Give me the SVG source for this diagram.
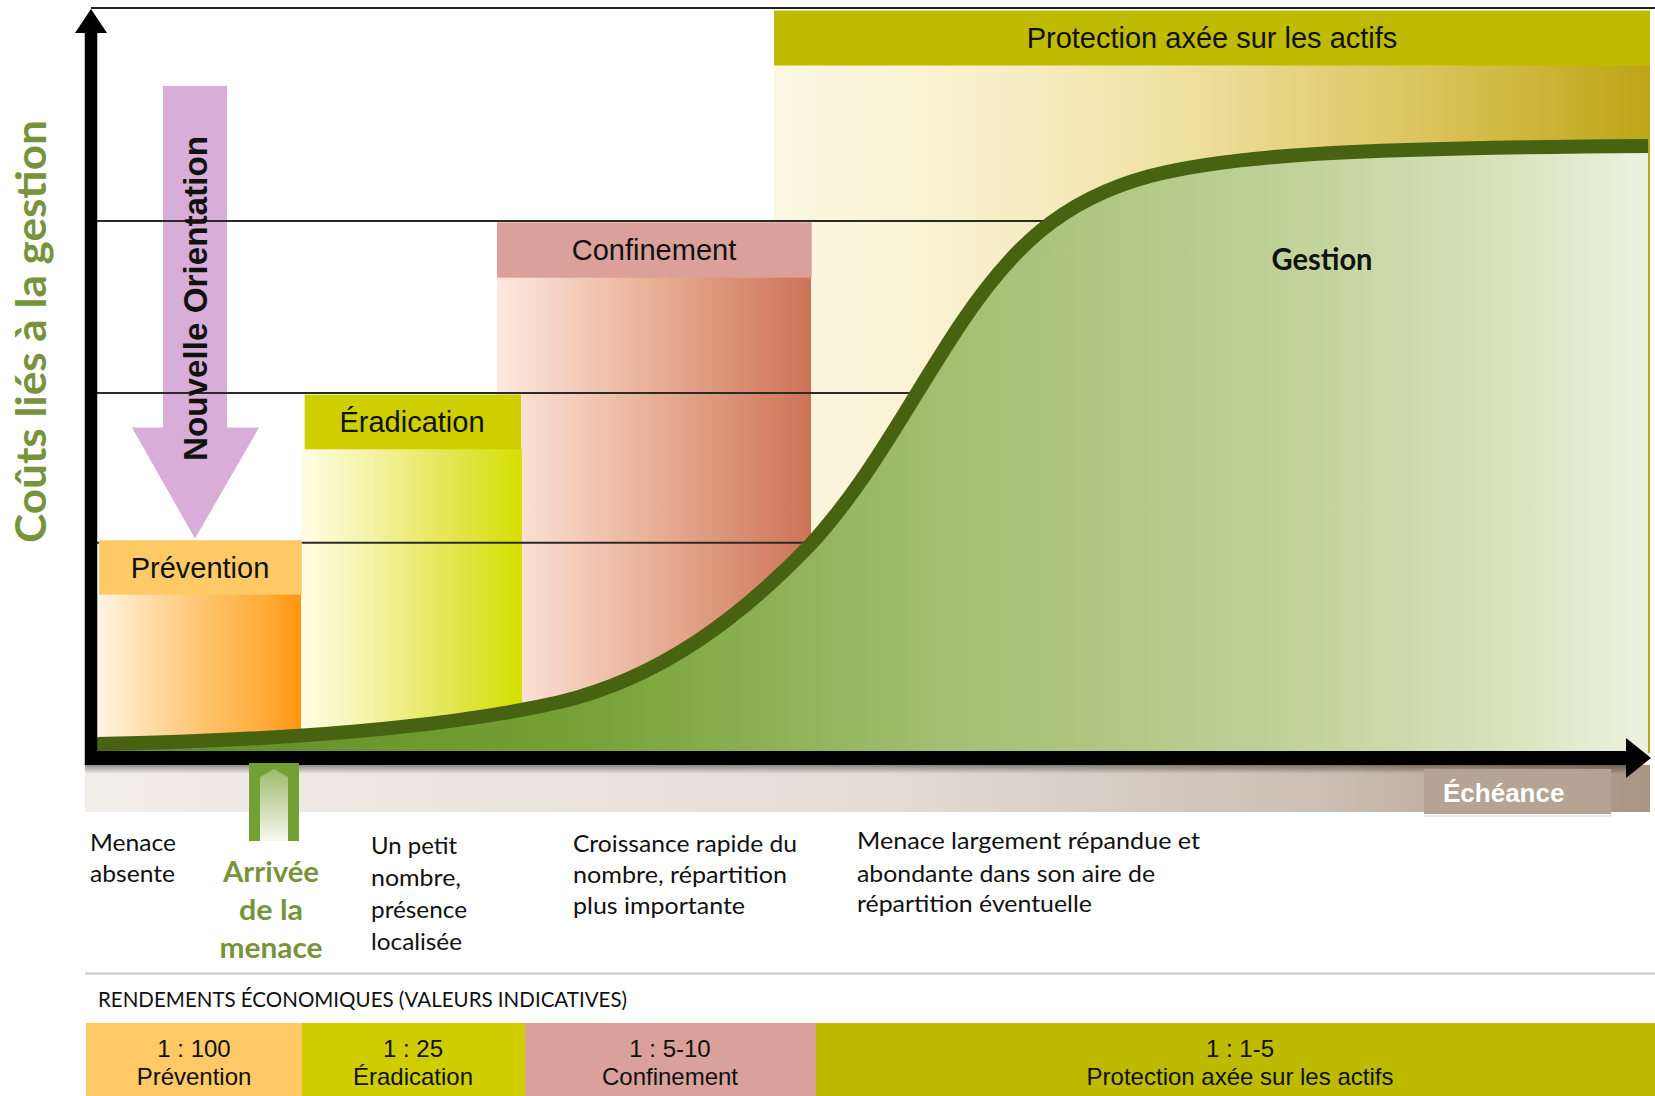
<svg xmlns="http://www.w3.org/2000/svg" width="1655" height="1096" viewBox="0 0 1655 1096">
<defs>
<style>
.ar{font-family:"Liberation Sans",Arial,sans-serif;fill:#111}
.cal{font-family:Lato,"Open Sans",sans-serif;fill:#111}
.box{font-size:29px}
.tbl{font-size:24px;text-anchor:middle}
.body{font-size:24px}
.grn{fill:#77933C;font-weight:bold}
.guide{stroke:#2a2a2a;stroke-width:2;fill:none}
</style>
<linearGradient id="gGold" x1="0" y1="0" x2="1" y2="0">
<stop offset="0" stop-color="#FCF7E3"/>
<stop offset="0.25" stop-color="#F8EFC9"/>
<stop offset="0.5" stop-color="#EEDD9A"/>
<stop offset="0.75" stop-color="#DAC35A"/>
<stop offset="1" stop-color="#BFA515"/>
</linearGradient>
<linearGradient id="gConf" x1="0" y1="0" x2="1" y2="0">
<stop offset="0" stop-color="#FCE8E0"/>
<stop offset="0.35" stop-color="#F0C1AB"/>
<stop offset="0.7" stop-color="#DD977B"/>
<stop offset="1" stop-color="#CD7357"/>
</linearGradient>
<linearGradient id="gErad" x1="0" y1="0" x2="1" y2="0">
<stop offset="0" stop-color="#FFFDE4"/>
<stop offset="0.3" stop-color="#F5F3AA"/>
<stop offset="0.7" stop-color="#E3E54C"/>
<stop offset="1" stop-color="#D5DF00"/>
</linearGradient>
<linearGradient id="gPrev" x1="0" y1="0" x2="1" y2="0">
<stop offset="0" stop-color="#FFF4E3"/>
<stop offset="0.5" stop-color="#FFC672"/>
<stop offset="0.85" stop-color="#FFA932"/>
<stop offset="1" stop-color="#FF9510"/>
</linearGradient>
<linearGradient id="gGreen" x1="97" y1="0" x2="1648" y2="0" gradientUnits="userSpaceOnUse">
<stop offset="0" stop-color="#5F8C24"/>
<stop offset="0.3" stop-color="#74A034"/>
<stop offset="0.55" stop-color="#A4BF72"/>
<stop offset="0.75" stop-color="#BCD094"/>
<stop offset="0.9" stop-color="#D6E2BA"/>
<stop offset="1" stop-color="#EDF2DE"/>
</linearGradient>
<linearGradient id="gBand" x1="0" y1="0" x2="1" y2="0">
<stop offset="0" stop-color="#F2EEEA"/>
<stop offset="0.5" stop-color="#E5DDD6"/>
<stop offset="0.8" stop-color="#CBBDB1"/>
<stop offset="1" stop-color="#A89584"/>
</linearGradient>
<linearGradient id="gShadow" x1="0" y1="0" x2="0" y2="1">
<stop offset="0" stop-color="#000" stop-opacity="0.4"/>
<stop offset="1" stop-color="#000" stop-opacity="0"/>
</linearGradient>
<linearGradient id="gArr" x1="0" y1="0" x2="0" y2="1">
<stop offset="0" stop-color="#9DBB6C"/>
<stop offset="1" stop-color="#F6F8EF"/>
</linearGradient>
</defs>

<rect width="1655" height="1096" fill="#fff"/>

<g id="backgrounds">
<rect x="774" y="65" width="876" height="688" fill="url(#gGold)"/>
<rect x="497" y="277" width="314" height="476" fill="url(#gConf)"/>
<rect x="301" y="449" width="221" height="304" fill="url(#gErad)"/>
<rect x="97" y="594" width="204" height="159" fill="url(#gPrev)"/>
</g>

<g id="nouvelle-orientation">
<polygon points="163,86 227,86 227,427.5 259,427.5 195,538.6 132,427.5 163,427.5" fill="#D8ADD7"/>
</g>

<g id="connectors">
<line class="guide" x1="97" y1="221" x2="1050" y2="221"/>
<line class="guide" x1="97" y1="393" x2="922" y2="393"/>
<line class="guide" x1="97" y1="542.7" x2="808" y2="542.7"/>
</g>

<g id="gestion">
<path d="M97,744 C300,740 450,727 560,702 C660,678 740,618 810,545 C870,480 910,400 960,325 C1010,250 1060,200 1150,176 C1230,155 1350,148 1650,146 L1648,146 L1648,753 L97,753 Z" fill="url(#gGreen)"/>
<path d="M97,744 C300,740 450,727 560,702 C660,678 740,618 810,545 C870,480 910,400 960,325 C1010,250 1060,200 1150,176 C1230,155 1350,148 1648,146" fill="none" stroke="#476211" stroke-width="14"/>
<text class="cal" x="1322" y="270" font-size="30" font-weight="bold" text-anchor="middle" fill="#262626" textLength="101" lengthAdjust="spacingAndGlyphs">Gestion</text>
</g>

<text class="ar" transform="translate(207,298.5) rotate(-90)" font-size="33" font-weight="bold" text-anchor="middle" fill="#1a1a1a" textLength="325" lengthAdjust="spacingAndGlyphs">Nouvelle Orientation</text>

<g id="protection">
<rect x="774" y="10.5" width="876" height="55" fill="#BFBB00"/>
<text class="ar box" x="1212" y="48" text-anchor="middle">Protection axée sur les actifs</text>
</g>
<g id="confinement">
<rect x="497" y="222.3" width="314.7" height="55.4" fill="#DBA09A"/>
<text class="ar box" x="654" y="260" text-anchor="middle">Confinement</text>
</g>
<g id="eradication">
<rect x="304.6" y="394.6" width="216.4" height="54.7" fill="#CFCF00"/>
<text class="ar box" x="412" y="432" text-anchor="middle">Éradication</text>
</g>
<g id="prevention">
<rect x="99" y="540.2" width="202.8" height="54.4" fill="#FFC966"/>
<text class="ar box" x="200" y="578" text-anchor="middle">Prévention</text>
</g>

<g id="axes">
<rect x="85" y="765" width="1565" height="47" fill="url(#gBand)"/>
<rect x="85" y="765" width="1545" height="9" fill="url(#gShadow)"/>
<line x1="91" y1="30" x2="91" y2="765" stroke="#000" stroke-width="12.5"/>
<polygon points="75,33 91,9 107,33" fill="#000"/>
<line x1="85" y1="758" x2="1630" y2="758" stroke="#000" stroke-width="14"/>
<polygon points="1626,738 1651,758 1626,778" fill="#000"/>
<line x1="91" y1="8" x2="1655" y2="8" stroke="#222" stroke-width="2"/>
</g>

<g id="echeance">
<rect x="1424" y="769" width="187" height="45" fill="#B5A494"/>
<line x1="1424" y1="816" x2="1611" y2="816" stroke="#E8E2DC" stroke-width="1.5"/>
<text class="ar" x="1443" y="801.7" font-size="26" font-weight="bold" style="fill:#fff">Échéance</text>
</g>

<g id="cout-label">
<text class="cal grn" transform="translate(46,331.5) rotate(-90)" font-size="42" text-anchor="middle" textLength="423" lengthAdjust="spacingAndGlyphs">Coûts liés à la gestion</text>
</g>

<g id="arrivee">
<rect x="249" y="763" width="50" height="78" fill="#72A035"/>
<polygon points="260,841 260,777 274,769 288,777 288,841" fill="url(#gArr)"/>
<text class="cal grn" x="271" y="882" font-size="29" text-anchor="middle" textLength="96" lengthAdjust="spacingAndGlyphs">Arrivée</text>
<text class="cal grn" x="271" y="920" font-size="29" text-anchor="middle" textLength="64" lengthAdjust="spacingAndGlyphs">de la</text>
<text class="cal grn" x="271" y="958" font-size="29" text-anchor="middle" textLength="103" lengthAdjust="spacingAndGlyphs">menace</text>
</g>

<g id="stage-texts">
<text class="cal body" x="90" y="850.6" textLength="86" lengthAdjust="spacingAndGlyphs">Menace</text>
<text class="cal body" x="90" y="882" textLength="85" lengthAdjust="spacingAndGlyphs">absente</text>
<text class="cal body" x="371" y="854" textLength="86" lengthAdjust="spacingAndGlyphs">Un petit</text>
<text class="cal body" x="371" y="886" textLength="90" lengthAdjust="spacingAndGlyphs">nombre,</text>
<text class="cal body" x="371" y="918" textLength="96" lengthAdjust="spacingAndGlyphs">présence</text>
<text class="cal body" x="371" y="950" textLength="91" lengthAdjust="spacingAndGlyphs">localisée</text>
<text class="cal body" x="573" y="852" textLength="224" lengthAdjust="spacingAndGlyphs">Croissance rapide du</text>
<text class="cal body" x="573" y="883" textLength="214" lengthAdjust="spacingAndGlyphs">nombre, répartition</text>
<text class="cal body" x="573" y="914" textLength="172" lengthAdjust="spacingAndGlyphs">plus importante</text>
<text class="cal body" x="857" y="849" textLength="343" lengthAdjust="spacingAndGlyphs">Menace largement répandue et</text>
<text class="cal body" x="857" y="881.7" textLength="298" lengthAdjust="spacingAndGlyphs">abondante dans son aire de</text>
<text class="cal body" x="857" y="912" textLength="235" lengthAdjust="spacingAndGlyphs">répartition éventuelle</text>
</g>

<g id="rendements">
<line x1="85" y1="973.5" x2="1655" y2="973.5" stroke="#C8C8C8" stroke-width="2"/>
<text class="cal" x="98" y="1007" font-size="22" textLength="529" lengthAdjust="spacingAndGlyphs">RENDEMENTS ÉCONOMIQUES (VALEURS INDICATIVES)</text>
</g>

<g id="table">
<g id="cell-prevention">
<rect x="86" y="1023" width="216" height="73" fill="#FFC966"/>
<text class="ar tbl" x="194" y="1057">1 : 100</text>
<text class="ar tbl" x="194" y="1084.5">Prévention</text>
</g>
<g id="cell-eradication">
<rect x="302" y="1023" width="223" height="73" fill="#CFCD00"/>
<text class="ar tbl" x="413" y="1057">1 : 25</text>
<text class="ar tbl" x="413" y="1084.5">Éradication</text>
</g>
<g id="cell-confinement">
<rect x="525" y="1023" width="291" height="73" fill="#D9A19A"/>
<text class="ar tbl" x="670" y="1057">1 : 5-10</text>
<text class="ar tbl" x="670" y="1084.5">Confinement</text>
</g>
<g id="cell-protection">
<rect x="816" y="1023" width="839" height="73" fill="#BDBA00"/>
<text class="ar tbl" x="1240" y="1057">1 : 1-5</text>
<text class="ar tbl" x="1240" y="1084.5">Protection axée sur les actifs</text>
</g>
</g>
</svg>
